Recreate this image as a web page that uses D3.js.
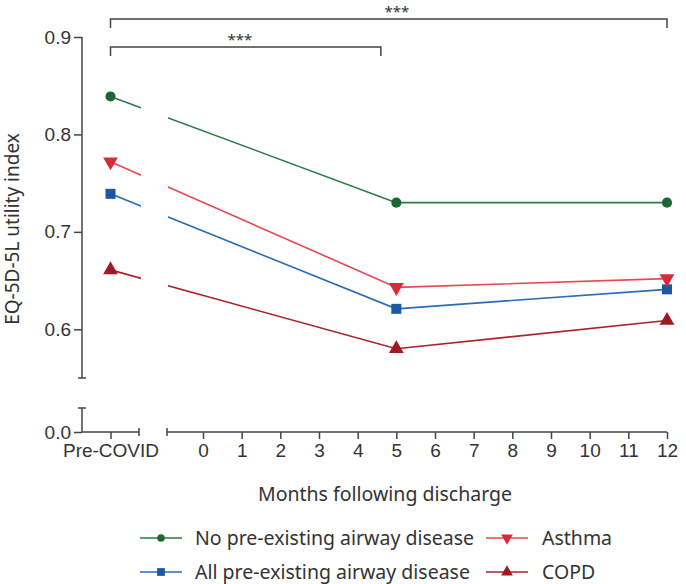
<!DOCTYPE html>
<html>
<head>
<meta charset="utf-8">
<script src="https://cdn.jsdelivr.net/npm/d3@7"></script>
<style>
  body { margin: 0; background: #fff; }
  svg { font-family: "Noto Sans", sans-serif; }
  .axis path, .axis line { stroke: #444; stroke-width: 1.5; }
  .axis text { fill: #333; font-size: 19px; }
</style>
</head>
<body>
<div id="chart"></div>
<script>
// EQ-5D-5L utility index over time, by airway disease group

// Data
const groups = ["No pre-existing airway disease", "All pre-existing airway disease", "Asthma", "COPD"];
const timepoints = ["Pre-COVID", 5, 12];
const noAirway = [0.839, 0.730, 0.730];
const allAirway = [0.739, 0.621, 0.641];
const asthma = [0.772, 0.643, 0.652];
const copd = [0.661, 0.580, 0.609];
const monthTicks = [0, 1, 2, 3, 4, 5, 6, 7, 8, 9, 10, 11, 12];
const yTicksTop = [0.6, 0.7, 0.8, 0.9];
const yTicksBottom = [0.0];

// significance brackets: from Pre-COVID to month
const brackets = [
    {to: 12, label: "***", level: 0},
    {to: 4.6, label: "***", level: 1}
];

const series = [
    {name: groups[0], values: noAirway, line: "#2b7a47", fill: "#1b6634", shape: "circle"},
    {name: groups[1], values: allAirway, line: "#2a6cb5", fill: "#1a58a3", shape: "square"},
    {name: groups[2], values: asthma, line: "#e8474f", fill: "#d92a3c", shape: "down"},
    {name: groups[3], values: copd, line: "#a8242c", fill: "#a01a24", shape: "up"}
];

const W = 686, H = 584;
const svg = d3.select("#chart").append("svg")
    .attr("width", W)
    .attr("height", H);

// Scales (broken axes)
const axisX = 82, axisY = 432;
const xPre = d3.scalePoint().domain(["Pre-COVID"]).range([82, 139]).padding(0.5);
const xMonth = d3.scaleLinear().domain([0, 12]).range([203, 667]);
const yTop = d3.scaleLinear().domain([0.55, 0.9]).range([378, 37]);
const yBottom = d3.scaleLinear().domain([0, 0.025]).range([432, 408]);

const xPos = t => t === "Pre-COVID" ? xPre(t) : xMonth(t);

// Y axis, upper part
const gyTop = svg.append("g").attr("class", "axis")
    .attr("transform", `translate(${axisX},0)`)
    .call(d3.axisLeft(yTop).tickValues(yTicksTop).tickFormat(d3.format(".1f")).tickSize(8).tickPadding(3));
gyTop.select(".domain").remove();
gyTop.append("line").attr("x1", 0).attr("x2", 0).attr("y1", yTop(0.9)).attr("y2", yTop(0.55));
gyTop.append("line").attr("x1", -4).attr("x2", 4).attr("y1", yTop(0.55)).attr("y2", yTop(0.55));

// Y axis, lower part
const gyBot = svg.append("g").attr("class", "axis")
    .attr("transform", `translate(${axisX},0)`)
    .call(d3.axisLeft(yBottom).tickValues(yTicksBottom).tickFormat(d3.format(".1f")).tickSize(8).tickPadding(3));
gyBot.select(".domain").remove();
gyBot.append("line").attr("x1", 0).attr("x2", 0).attr("y1", yBottom(0)).attr("y2", yBottom(0.025));
gyBot.append("line").attr("x1", -4).attr("x2", 4).attr("y1", yBottom(0.025)).attr("y2", yBottom(0.025));

// X axis, Pre-COVID part
const gxPre = svg.append("g").attr("class", "axis")
    .attr("transform", `translate(0,${axisY})`)
    .call(d3.axisBottom(xPre).tickSize(7).tickPadding(5));
gxPre.select(".domain").remove();
gxPre.append("line").attr("x1", 82).attr("x2", 139).attr("y1", 0).attr("y2", 0);
gxPre.append("line").attr("x1", 139).attr("x2", 139).attr("y1", -4).attr("y2", 4);

// X axis, months part
const gxMon = svg.append("g").attr("class", "axis")
    .attr("transform", `translate(0,${axisY})`)
    .call(d3.axisBottom(xMonth).tickValues(monthTicks).tickFormat(d3.format("d")).tickSize(7).tickPadding(5));
gxMon.select(".domain").remove();
gxMon.append("line").attr("x1", 167).attr("x2", xMonth(12)).attr("y1", 0).attr("y2", 0);
gxMon.append("line").attr("x1", 167).attr("x2", 167).attr("y1", -4).attr("y2", 4);

// Axis titles
svg.append("text")
    .attr("x", 385).attr("y", 501)
    .attr("text-anchor", "middle")
    .style("font-size", "19.5px").style("fill", "#333")
    .text("Months following discharge");

svg.append("text")
    .attr("transform", "rotate(-90)")
    .attr("x", -229).attr("y", 19)
    .attr("text-anchor", "middle")
    .style("font-size", "19px").style("fill", "#333")
    .text("EQ-5D-5L utility index");

// Clip out the axis break gap from the lines
const defs = svg.append("defs");
const clip = defs.append("clipPath").attr("id", "gap-clip");
clip.append("rect").attr("x", 0).attr("y", 0).attr("width", 141).attr("height", H);
clip.append("rect").attr("x", 168).attr("y", 0).attr("width", W - 168).attr("height", H);

const line = d3.line().x(d => d[0]).y(d => d[1]);

const symbolFor = shape => {
    if (shape === "circle") return d3.symbol(d3.symbolCircle, 80);
    if (shape === "square") return d3.symbol(d3.symbolSquare, 100);
    return d3.symbol(d3.symbolTriangle, 95);
};

series.forEach(s => {
    const pts = timepoints.map((t, i) => [xPos(t), yTop(s.values[i])]);
    svg.append("path")
        .attr("d", line(pts))
        .attr("fill", "none")
        .attr("stroke", s.line)
        .attr("stroke-width", 1.6)
        .attr("clip-path", "url(#gap-clip)");

    svg.selectAll(null)
        .data(pts)
        .enter()
        .append("path")
        .attr("d", symbolFor(s.shape))
        .attr("transform", d => `translate(${d[0]},${d[1]})` + (s.shape === "down" ? " rotate(180)" : ""))
        .attr("fill", s.fill);
});

// Significance brackets
brackets.forEach(b => {
    const by = 19 + b.level * 28;
    const x1 = xPre("Pre-COVID"), x2 = xMonth(b.to);
    svg.append("path")
        .attr("d", `M${x1},${by + 9}V${by}H${x2}V${by + 9}`)
        .attr("fill", "none")
        .attr("stroke", "#444")
        .attr("stroke-width", 1.5);
    svg.append("text")
        .attr("x", b.level === 0 ? 397 : 240)
        .attr("y", by - 2)
        .attr("text-anchor", "middle")
        .style("font-size", "15px").style("fill", "#333")
        .text(b.label);
});

// Legend
const legendPos = [[140, 538], [140, 572], [486, 538], [486, 572]];
series.forEach((s, i) => {
    const [lx, ly] = legendPos[i];
    const g = svg.append("g").attr("transform", `translate(${lx},${ly})`);
    g.append("line")
        .attr("x1", 0).attr("x2", 42)
        .attr("stroke", s.line).attr("stroke-width", 1.6);
    g.append("path")
        .attr("d", symbolFor(s.shape).size(s.shape === "circle" ? 45 : 60))
        .attr("transform", "translate(21,0)" + (s.shape === "down" ? " rotate(180)" : ""))
        .attr("fill", s.fill);
    g.append("text")
        .attr("x", i < 2 ? 55 : 56)
        .attr("dy", "0.35em")
        .style("font-size", "19.5px").style("fill", "#333")
        .text(s.name);
});
</script>
</body>
</html>
